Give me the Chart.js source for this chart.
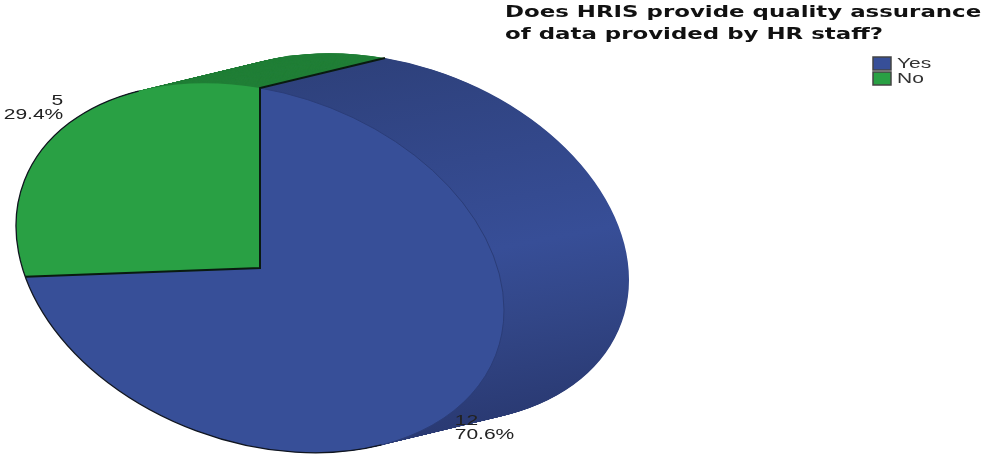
<!DOCTYPE html>
<html lang="en">
<head>
  <meta charset="UTF-8" />
  <title>HRIS quality assurance</title>
  <script src="https://cdn.jsdelivr.net/npm/chart.js"></script>
  <style>
    html, body { margin: 0; padding: 0; background: #fff; }
    canvas { display: block; }
  </style>
</head>
<body>
  <canvas id="chart" width="985" height="454"></canvas>

  <script>
    const titleLines = ['Does HRIS provide quality assurance', 'of data provided by HR staff?'];
    const categories = ['Yes', 'No'];
    const counts = [12, 5];
    const faceColors = ['#374f98', '#29a044'];

    // pie disc is sheared and squashed, then swept back to make the thick body
    const tilt = { xx: 244, yx: 42, yy: 180 };
    const depth = { x: 125, y: -30, steps: 160 };

    function discTransform(ctx, el) {
      const r = el.outerRadius;
      const a = tilt.xx / r, b = tilt.yx / r, d = tilt.yy / r;
      ctx.transform(a, b, 0, d, el.x - a * el.x, el.y - b * el.x - d * el.y);
    }

    function onDisc(el, angle) {
      const ux = Math.cos(angle), uy = Math.sin(angle);
      return { x: el.x + tilt.xx * ux, y: el.y + tilt.yx * ux + tilt.yy * uy, ux };
    }

    function wedgePath(ctx, el, dx, dy) {
      ctx.save();
      ctx.translate(dx, dy);
      discTransform(ctx, el);
      ctx.beginPath();
      ctx.moveTo(el.x, el.y);
      ctx.arc(el.x, el.y, el.outerRadius, el.startAngle, el.endAngle);
      ctx.closePath();
      ctx.restore();
    }

    function rimStroke(ctx, el, from, to, color, width) {
      ctx.save();
      discTransform(ctx, el);
      ctx.beginPath();
      ctx.arc(el.x, el.y, el.outerRadius, from, to);
      ctx.restore();
      ctx.strokeStyle = color;
      ctx.lineWidth = width;
      ctx.stroke();
    }

    // wide text, the fonts here are narrower than the labels should look
    function wideText(ctx, text, x, y, stretch, align) {
      ctx.save();
      ctx.translate(x, y);
      ctx.scale(stretch, 1);
      ctx.textAlign = align || 'left';
      ctx.textBaseline = 'alphabetic';
      ctx.fillText(text, 0, 0);
      ctx.restore();
    }

    const tiltedPie = {
      id: 'tiltedPie',
      beforeDatasetDraw(chart) {
        const ctx = chart.ctx;
        const arcs = chart.getDatasetMeta(0).data;
        const cy = arcs[0].y;

        const blueSide = ctx.createLinearGradient(400, cy - 210, 470, cy + 157);
        blueSide.addColorStop(0, '#2e417c');
        blueSide.addColorStop(0.3, '#33488b');
        blueSide.addColorStop(0.55, '#374e97');
        blueSide.addColorStop(0.75, '#324687');
        blueSide.addColorStop(1, '#2a3a73');
        const sides = [blueSide, '#217f37'];

        // back to front, the last copies sit right behind the face
        for (let i = depth.steps; i > 0; i--) {
          const t = i / depth.steps;
          arcs.forEach((el, k) => {
            wedgePath(ctx, el, depth.x * t, depth.y * t);
            ctx.fillStyle = sides[k];
            ctx.fill();
          });
        }

        ctx.save();
        discTransform(ctx, arcs[0]);
      },
      afterDatasetDraw(chart) {
        const ctx = chart.ctx;
        ctx.restore();

        const arcs = chart.getDatasetMeta(0).data;
        const yes = arcs[0], no = arcs[1];
        const center = { x: yes.x, y: yes.y };
        const top = onDisc(yes, yes.startAngle);
        const split = onDisc(yes, yes.endAngle);

        // thin edge where the face meets the side, black on the silhouette
        rimStroke(ctx, yes, yes.startAngle, yes.startAngle + 2.62, '#2b3d78', 1);
        rimStroke(ctx, yes, yes.startAngle + 2.62, no.endAngle - 0.52, '#10151f', 1.3);

        ctx.strokeStyle = '#0a1a10';
        ctx.lineWidth = 2;
        ctx.lineJoin = 'miter';
        ctx.beginPath();
        ctx.moveTo(top.x + depth.x, top.y + depth.y);
        ctx.lineTo(top.x, top.y);
        ctx.lineTo(center.x, center.y);
        ctx.lineTo(split.x, split.y);
        ctx.stroke();

        // count and share next to each slice
        const total = counts.reduce((a, b) => a + b, 0);
        ctx.fillStyle = '#222';
        ctx.font = '14px "Liberation Sans"';
        arcs.forEach((el, k) => {
          const mid = onDisc(el, (el.startAngle + el.endAngle) / 2);
          const right = mid.ux > 0;
          const x = right ? mid.x : mid.x - 2;
          const y = right ? mid.y + 15 : mid.y - 21;
          const align = right ? 'left' : 'right';
          wideText(ctx, String(counts[k]), x, y, 1.5, align);
          wideText(ctx, (counts[k] / total * 100).toFixed(1) + '%', x, y + 14, 1.5, align);
        });
      },
      afterDraw(chart) {
        const ctx = chart.ctx;

        ctx.fillStyle = '#111';
        ctx.font = 'bold 16px "DejaVu Sans"';
        wideText(ctx, titleLines[0], 505, 17, 1.43);
        wideText(ctx, titleLines[1], 505, 39, 1.43);

        ctx.font = '14px "Liberation Sans"';
        categories.forEach((name, k) => {
          const y = 57 + k * 15;
          ctx.fillStyle = faceColors[k];
          ctx.fillRect(873, y, 18, 13);
          ctx.strokeStyle = '#444';
          ctx.lineWidth = 1.5;
          ctx.strokeRect(873, y, 18, 13);
          ctx.fillStyle = '#333';
          wideText(ctx, name, 897, y + 11, 1.5);
        });
      }
    };

    new Chart(document.getElementById('chart'), {
      type: 'pie',
      data: {
        labels: categories,
        datasets: [{
          data: counts,
          backgroundColor: faceColors,
          borderWidth: 0,
          clip: false
        }]
      },
      options: {
        responsive: false,
        animation: false,
        layout: { padding: { left: 0, right: 465, top: 82, bottom: 0 } },
        plugins: {
          legend: { display: false },
          title: { display: false },
          tooltip: { enabled: false }
        }
      },
      plugins: [tiltedPie]
    });
  </script>
</body>
</html>
